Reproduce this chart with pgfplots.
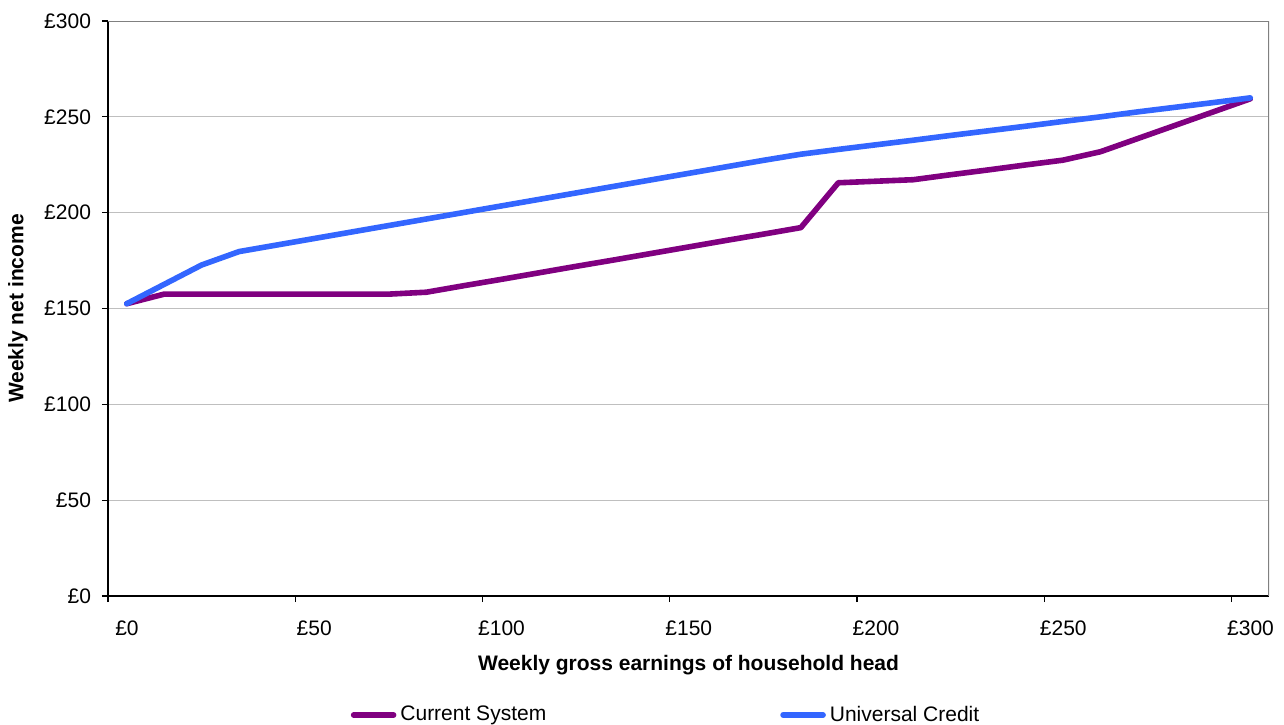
\documentclass[border=0pt]{standalone}
\usepackage{fontspec}
\setmainfont{Liberation Sans}
\usepackage{pgfplots}
\pgfplotsset{compat=1.18}
\definecolor{cursys}{HTML}{800080}
\definecolor{unicred}{HTML}{3366FF}
\begin{document}
\begin{tikzpicture}
\begin{axis}[
  scale only axis,
  width=580.5bp, height=287.5bp,
  xmin=0, xmax=310, ymin=0, ymax=300,
  axis x line*=bottom, axis y line*=left,
  axis line style={black, line width=0.6bp},
  xtick={0,50,100,150,200,250,300},
  xticklabels={£0,£50,£100,£150,£200,£250,£300},
  ytick={0,50,100,150,200,250,300},
  yticklabels={£0,£50,£100,£150,£200,£250,£300},
  tick align=outside, major tick length=3bp,
  tick style={black, line width=0.6bp},
  xtick pos=bottom, ytick pos=left,
  ymajorgrids, grid style={gray!50, line width=0.5bp},
  tick label style={font=\fontsize{10.5bp}{12.6bp}\selectfont},
  xticklabel style={yshift=-6bp, xshift=9.5bp},
  yticklabel style={xshift=-2bp},
  xlabel={\textbf{Weekly gross earnings of household head}},
  ylabel={\textbf{Weekly net income}},
  label style={font=\fontsize{10.5bp}{12.6bp}\selectfont},
  xlabel style={at={(0.5,0)}, anchor=center, yshift=-34.5bp},
  ylabel style={at={(0,0.5)}, anchor=center, rotate=0, yshift=45bp},
  legend columns=2,
  legend style={at={(0.4815,0)}, anchor=center, yshift=-59.5bp,
    draw=none, fill=none, inner sep=0pt,
    font=\fontsize{10.5bp}{12.6bp}\selectfont,
    /tikz/every even column/.append style={column sep=115bp}},
  legend cell align=left,
  legend image code/.code={\draw[#1] (0bp,0bp) -- (20bp,0bp);},
]
% gray frame on the top and right of the plot area
\draw[gray, line width=0.6bp] (rel axis cs:0,1) -- (rel axis cs:1,1) -- (rel axis cs:1,0);

\addplot[cursys, line width=2.8bp, line join=round, line cap=round] coordinates {
  (5,152.5) (15,157.5) (25,157.5) (35,157.5) (45,157.5) (55,157.5) (65,157.5)
  (75,157.5) (85,158.5) (95,161.9) (105,165.2) (115,168.6) (125,172.0)
  (135,175.3) (145,178.7) (155,182.1) (165,185.5) (175,188.8) (185,192.2)
  (195,215.6) (205,216.4) (215,217.2) (225,219.8) (235,222.3) (245,224.9)
  (255,227.4) (265,231.8) (275,238.7) (285,245.6) (295,252.5) (305,259.4)
};
\addlegendentry{Current System}

\addplot[unicred, line width=2.8bp, line join=round, line cap=round] coordinates {
  (5,152.5) (15,162.6) (25,172.7) (35,179.7) (45,183.1) (55,186.5) (65,189.9)
  (75,193.3) (85,196.7) (95,200.1) (105,203.5) (115,206.9) (125,210.3)
  (135,213.7) (145,217.1) (155,220.5) (165,223.9) (175,227.3) (185,230.5)
  (195,233.0) (205,235.4) (215,237.8) (225,240.3) (235,242.7) (245,245.1)
  (255,247.6) (265,250.0) (275,252.6) (285,255.0) (295,257.4) (305,259.9)
};
\addlegendentry{Universal Credit}
\end{axis}
\pgfresetboundingbox
\path[use as bounding box] (-54bp,-64.5bp) rectangle (588bp,298bp);
\end{tikzpicture}
\end{document}
